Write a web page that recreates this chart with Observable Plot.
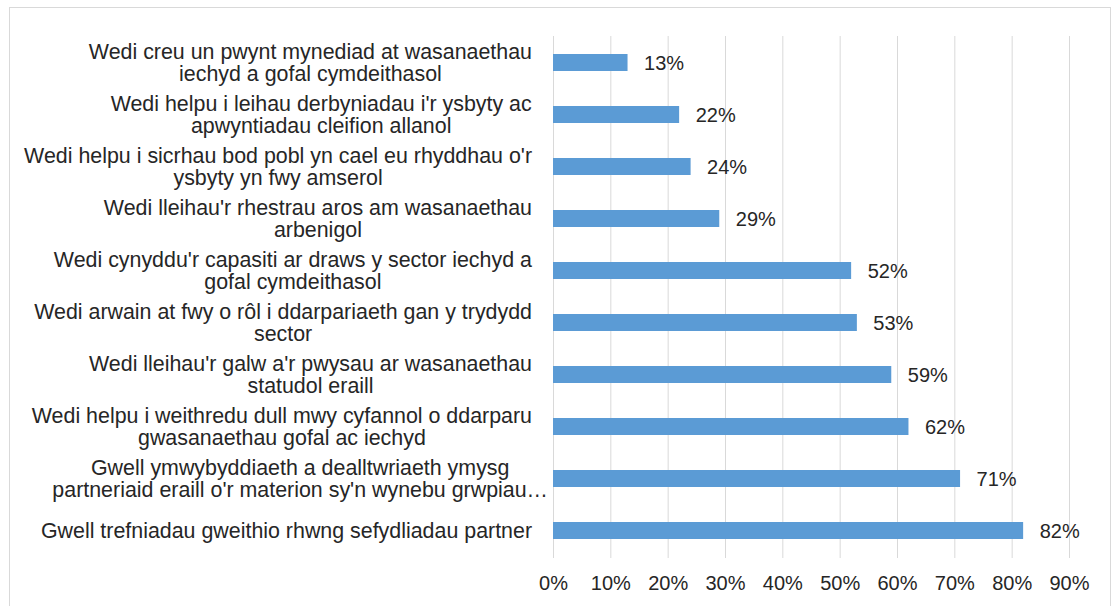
<!DOCTYPE html>
<html>
<head>
<meta charset="utf-8">
<script src="https://cdn.jsdelivr.net/npm/d3@7"></script>
<script src="https://cdn.jsdelivr.net/npm/@observablehq/plot@0.6"></script>
<style>
  html, body { margin: 0; padding: 0; background: #fff; overflow: hidden; }
  #wrap { position: relative; width: 1119px; height: 606px; }
  #frame { position: absolute; left: 9px; top: 7px; width: 1102px; height: 620px;
           border: 1px solid #d9d9d9; pointer-events: none; box-sizing: border-box; }
  #chart svg { display: block; }
</style>
</head>
<body>
<div id="wrap">
  <div id="chart"></div>
  <div id="frame"></div>
</div>
<script>
const categories = [
  "Wedi creu un pwynt mynediad at wasanaethau\niechyd a gofal cymdeithasol",
  "Wedi helpu i leihau derbyniadau i'r ysbyty ac\napwyntiadau cleifion allanol",
  "Wedi helpu i sicrhau bod pobl yn cael eu rhyddhau o'r\nysbyty yn fwy amserol",
  "Wedi lleihau'r rhestrau aros am wasanaethau\narbenigol",
  "Wedi cynyddu'r capasiti ar draws y sector iechyd a\ngofal cymdeithasol",
  "Wedi arwain at fwy o rôl i ddarpariaeth gan y trydydd\nsector",
  "Wedi lleihau'r galw a'r pwysau ar wasanaethau\nstatudol eraill",
  "Wedi helpu i weithredu dull mwy cyfannol o ddarparu\ngwasanaethau gofal ac iechyd",
  "Gwell ymwybyddiaeth a dealltwriaeth ymysg\npartneriaid eraill o'r materion sy'n wynebu grwpiau…",
  "Gwell trefniadau gweithio rhwng sefydliadau partner"
];
const values = [13, 22, 24, 29, 52, 53, 59, 62, 71, 82];
const xTicks = [0, 10, 20, 30, 40, 50, 60, 70, 80, 90];

const rows = categories.map((c, i) => ({category: c, value: values[i]}));

const svg = Plot.plot({
  width: 1119,
  height: 606,
  marginLeft: 553,
  marginRight: 50,
  marginTop: 36,
  marginBottom: 48,
  style: {fontFamily: "'Liberation Sans', Arial, sans-serif", fontSize: "20px", color: "#262626", background: "transparent"},
  x: {domain: [0, 90], ticks: xTicks, tickFormat: d => d + "%", tickSize: 0, tickPadding: 17, label: null},
  y: {domain: categories, paddingInner: 0.665, paddingOuter: 0.3325, axis: null},
  marks: [
    Plot.ruleX(xTicks, {x: d => d, stroke: "#d9d9d9", strokeWidth: 1}),
    Plot.barX(rows, {x: "value", y: "category", fill: "#5b9bd5"}),
    Plot.text(rows, {x: "value", y: "category", text: d => d.value + "%", textAnchor: "start", dx: 16, dy: 1, fill: "#262626", fontSize: 20}),
    Plot.text(categories, {y: d => d, text: d => d, frameAnchor: "left", textAnchor: "middle", lineHeight: 1.03, fill: "#262626", fontSize: 21.4})
  ]
});

document.getElementById("chart").appendChild(svg);

// Excel-style label block: lines centred on each other, block right-aligned to the plot edge
const groups = svg.querySelectorAll('g[aria-label="text"]');
const labelGroup = groups[groups.length - 1];
const svgRect = svg.getBoundingClientRect();
const rightEdge = svgRect.left + 532;
labelGroup.querySelectorAll("text").forEach(t => {
  const r = t.getBoundingClientRect();
  const overflow = /…/.test(t.textContent) ? 16 : 0;
  const shift = rightEdge + overflow - r.right;
  t.setAttribute("transform", `translate(${shift},0) ` + (t.getAttribute("transform") || ""));
});
</script>
</body>
</html>
